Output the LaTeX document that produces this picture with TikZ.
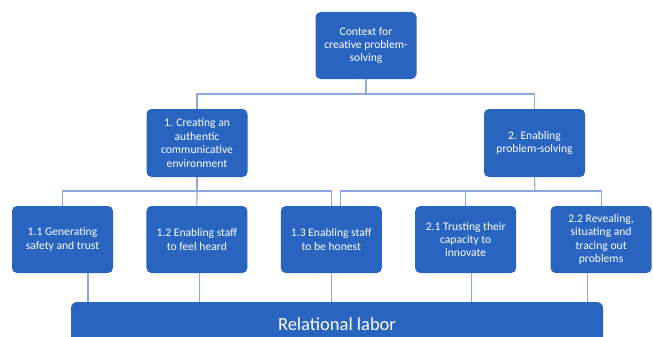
\documentclass[tikz,border=0pt]{standalone}
\usepackage{fontspec}
\setmainfont{Carlito}
\usetikzlibrary{positioning}
\definecolor{BoxBlue}{RGB}{40,100,192}
\definecolor{LinkBlue}{RGB}{140,168,218}

\begin{document}
\begin{tikzpicture}[
x=1pt, y=-1pt,
font=\fontsize{11.6}{13.4}\selectfont,
box/.style={fill=BoxBlue, rounded corners=5pt, align=center, text=white, minimum width=101pt, minimum height=67pt, inner sep=1pt},
link/.style={draw=LinkBlue, line width=1.1pt}
]
\useasboundingbox (0,0) rectangle (653,337);

\node[box] (ctx) at (366,45.5) {Context for\\creative problem-\\solving};
\node[box, minimum height=68pt] (crea) at (197,143) {1. Creating an\\authentic\\communicative\\environment};
\node[box, minimum height=68pt] (prob) at (534.5,143) {2. Enabling\\problem-solving};

\node[box] (safe) at (62.5,239.5) {1.1 Generating\\safety and trust};
\node[box, right=33pt of safe] (heard) {1.2 Enabling staff\\to feel heard};
\node[box, right=33pt of heard] (honest) {1.3 Enabling staff\\to be honest};
\node[box, right=33pt of honest] (trust) {2.1 Trusting their\\capacity to\\innovate};
\node[box, right=34pt of trust] (reveal) {2.2 Revealing,\\situating and\\tracing out\\problems};

\node[box, rounded corners=6pt, minimum width=532pt, minimum height=44pt, font=\fontsize{18.5}{21}\selectfont] (labor) at (337,324) {Relational labor};

% tree links
\coordinate (bus0) at (366,94);
\draw[link] (ctx.south) -- (bus0);
\draw[link] (crea.north) |- (bus0) -| (prob.north);

\coordinate (bus1) at (197,191);
\draw[link] (crea.south) -- (bus1);
\draw[link] (safe.north) |- (bus1) -| (honest.north);
\draw[link] (heard.north) -- (bus1);

\coordinate (bus2) at (535,191);
\draw[link] (prob.south) -- (bus2);
\draw[link] (trust.north) |- (bus2) -| (reveal.north);
\draw[link] ([xshift=9pt]honest.north) |- (trust.north |- bus2);

% drops to the base
\draw[link] ([xshift=25.5pt]safe.south) -- ([xshift=25.5pt]safe.south |- labor.north);
\draw[link] ([xshift=3pt]heard.south) -- ([xshift=3pt]heard.south |- labor.north);
\draw[link] (honest.south) -- (honest.south |- labor.north);
\draw[link] ([xshift=6pt]trust.south) -- ([xshift=6pt]trust.south |- labor.north);
\draw[link] ([xshift=-13.5pt]reveal.south) -- ([xshift=-13.5pt]reveal.south |- labor.north);
\end{tikzpicture}
\end{document}
